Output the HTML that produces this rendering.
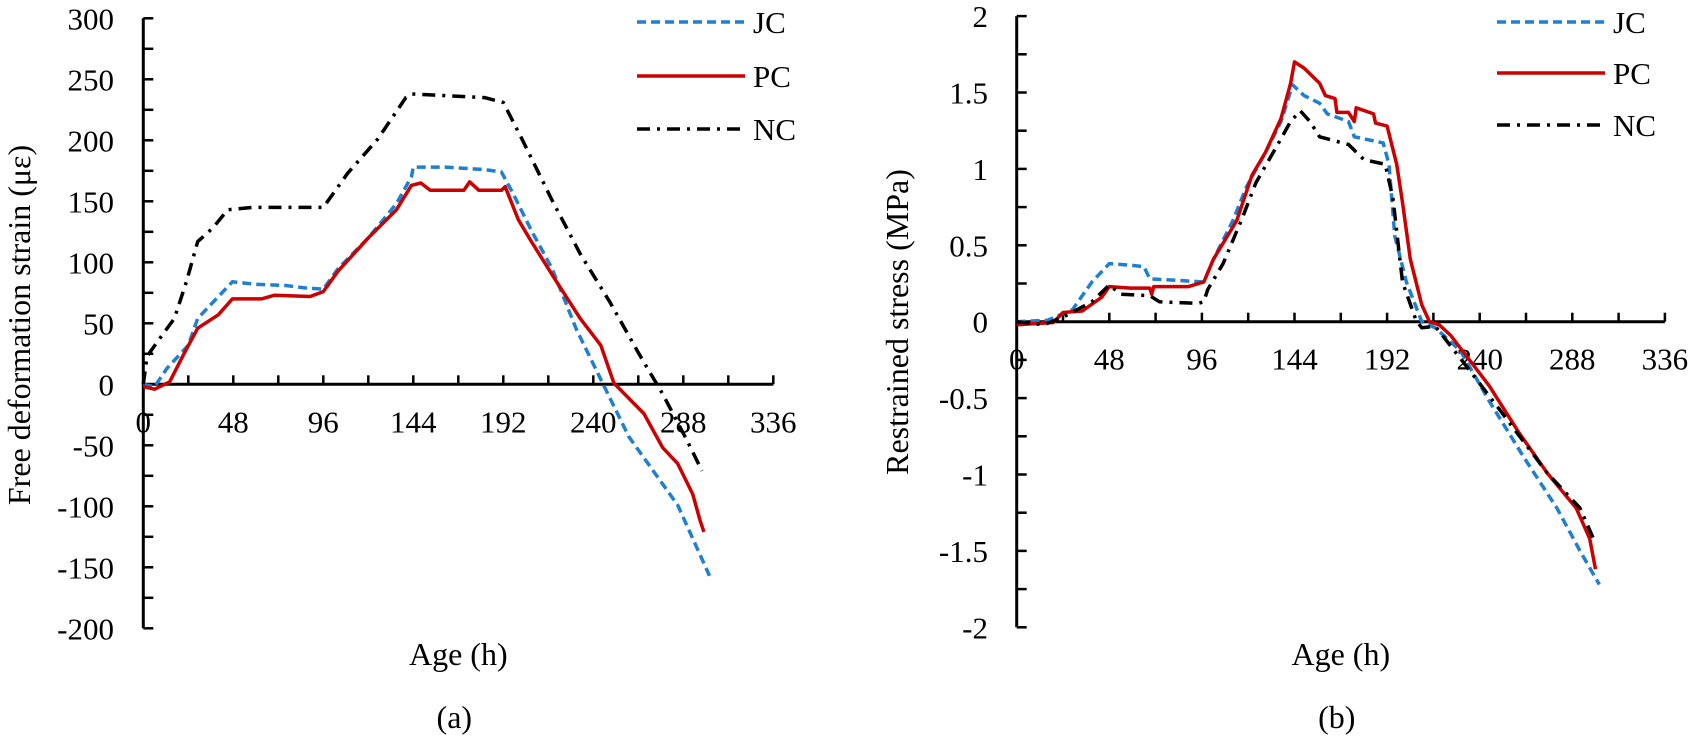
<!DOCTYPE html>
<html><head><meta charset="utf-8">
<style>
html,body{margin:0;padding:0;background:#fff;}
svg{display:block;}
svg text{font-family:"Liberation Serif","Times New Roman",serif;fill:#000;}
</style></head>
<body>
<svg id="fig" width="1689" height="742" viewBox="0 0 1689 742" font-family="Liberation Serif, serif" xmlns="http://www.w3.org/2000/svg"></svg>
<script>
// ---- Data: chart (a) free deformation strain ----
const xTicks = [0,48,96,144,192,240,288,336];
const aYTicks = [300,250,200,150,100,50,0,-50,-100,-150,-200];
const aJCx = [0,6,12.6,24,29,37,47.5,60,76,86,96,104,120,135,143,144,161,182,191,197,207,218,231,244,259,285,302];
const aJCy = [0,-2,13,32,54,67,84,82,81,79,78,95,120,148,170,178,178,176,174,157,126,95,45,4,-43,-99,-157];
const aPCx = [0,6,14,22,29,40,47.5,63,70,89,96,104,120,135,143,148,153,171,174,179,191,193,200,207,220,233,244,251,267,277,285,293,297,299];
const aPCy = [-2,-4,2,26,46,57,70,70,73,72,76,93,120,143,163,165,159,159,166,159,159,162,135,117,85,54,32,1,-24,-52,-65,-90,-112,-121];
const aNCx = [0,2,9,16.6,23,29,37,45,58,78,96,109,125,140,143,156,182,192,202,218,233,249,264,277,290,298];
const aNCy = [0,23,38,54,84,117,128,143,145,145,145,173,201,235,238,237,235,231,201,151,107,67,26,-8,-46,-71];
// ---- Data: chart (b) restrained stress ----
const bYTicks = [2,1.5,1,0.5,0,-0.5,-1,-1.5,-2];
const bYLabels = ["2","1.5","1","0.5","0","-0.5","-1","-1.5","-2"];
const bJCx = [0,16,29,39,48,59,66,69,84,97,102,112,119,129,137,143,149,157,161,172,175,190,193,196,202,210,217,230,245,263,280,292,302];
const bJCy = [0,0.01,0.08,0.26,0.38,0.37,0.36,0.28,0.27,0.26,0.41,0.66,0.88,1.11,1.31,1.55,1.48,1.43,1.36,1.31,1.21,1.17,1.03,0.56,0.26,0,-0.04,-0.19,-0.52,-0.89,-1.22,-1.5,-1.72];
const bPCx = [0,19,24,34,44,48,59,69,70,71,89,97,102,114,122,129,137,142,144,149,157,160,165,166,172,175,176,185,186,192,197,200,204,210,214,219,225,245,260,275,290,297,300];
const bPCy = [-0.02,-0.005,0.06,0.07,0.16,0.23,0.22,0.22,0.18,0.23,0.23,0.26,0.41,0.66,0.96,1.11,1.33,1.56,1.70,1.66,1.56,1.48,1.46,1.37,1.37,1.31,1.40,1.36,1.30,1.28,1.03,0.78,0.41,0.11,0,-0.02,-0.09,-0.42,-0.72,-0.99,-1.22,-1.42,-1.62];
const bNCx = [0,14,24,39,48,54,69,74,94,97,99,107,117,124,134,142,147,152,157,172,180,191,195,200,207,210,217,230,250,275,292,300];
const bNCy = [0,-0.02,0.03,0.13,0.24,0.18,0.17,0.13,0.12,0.13,0.21,0.38,0.68,0.91,1.13,1.31,1.38,1.31,1.21,1.16,1.06,1.03,0.81,0.26,0.01,-0.04,-0.03,-0.24,-0.57,-0.99,-1.22,-1.45];

const NS = "http://www.w3.org/2000/svg";
const svg = document.getElementById('fig');
function mk(tag, attrs, parent){
  const e = document.createElementNS(NS, tag);
  for (const k in attrs) e.setAttribute(k, attrs[k]);
  (parent||svg).appendChild(e);
  return e;
}
const styles = {
  JC:{stroke:'#1f7fd0',dash:'9 5'},
  PC:{stroke:'#cc0000',dash:''},
  NC:{stroke:'#000000',dash:'13 7 3 7'}
};
const FF = '"Liberation Serif", "Times New Roman", serif';

function drawChart(cfg){
  const g = mk('g',{'font-family':FF});
  
  
  const X = v => cfg.x0 + v/48*cfg.px48;
  const Y = v => cfg.y0 - v/cfg.yStep*cfg.pxStep;
  const yTop = Y(cfg.yTicks[0]), yBot = Y(cfg.yTicks[cfg.yTicks.length-1]);
  const ya = mk('line',{x1:cfg.x0,y1:yTop,x2:cfg.x0,y2:yBot,stroke:'#000','stroke-width':3},g);
  
  
  for (let i=0;i<cfg.yTicks.length;i++){
    const v = cfg.yTicks[i];
    mk('line',{x1:cfg.x0,y1:Y(v),x2:cfg.x0+10,y2:Y(v),stroke:'#000','stroke-width':2.5},g);
    if (i<cfg.yTicks.length-1){
      const m = v - cfg.yStep/2;
      mk('line',{x1:cfg.x0,y1:Y(m),x2:cfg.x0+10,y2:Y(m),stroke:'#000','stroke-width':2.5},g);
    }
    const t = mk('text',{x:cfg.labelRight,y:Y(v)+11,'text-anchor':'end','font-size':31},g);
    t.textContent = cfg.yLabels[i];
    
    
  }
  const xa = mk('line',{x1:cfg.x0,y1:cfg.y0,x2:X(336),y2:cfg.y0,stroke:'#000','stroke-width':3},g);
  
  
  for (let v=24; v<=336; v+=24){
    mk('line',{x1:X(v),y1:cfg.y0,x2:X(v),y2:cfg.y0-9,stroke:'#000','stroke-width':2.5},g);
  }
  xTicks.forEach(v=>{
    const t = mk('text',{x:X(v),y:cfg.y0+48,'text-anchor':'middle','font-size':31},g);
    t.textContent = String(v);
    
    
  });
  const cx = (cfg.x0 + X(336))/2;
  const xt = mk('text',{x:cx,y:665,'text-anchor':'middle','font-size':32},g);
  xt.textContent = 'Age (h)';
  
  
  const pl = mk('text',{x:cx-4,y:728,'text-anchor':'middle','font-size':32},g);
  pl.textContent = cfg.panel;
  
  
  const yt = mk('text',{x:0,y:0,'text-anchor':'middle','font-size':32,transform:`translate(${cfg.ytX},${cfg.ytY}) rotate(-90)`},g);
  yt.textContent = cfg.yTitle;
  
  
  cfg.series.forEach(s=>{
    const st = styles[s.key];
    const d = s.xs.map((x,i)=>(i?'L':'M')+X(x).toFixed(1)+' '+Y(s.ys[i]).toFixed(1)).join(' ');
    const p = mk('path',{d:d,fill:'none',stroke:st.stroke,'stroke-width':3.5,'stroke-linejoin':'round'},g);
    if (st.dash) p.setAttribute('stroke-dasharray', st.dash);
    
    
  });
  cfg.series.forEach((s,i)=>{
    const st = styles[s.key];
    const ly = cfg.legY[i];
    const lg = mk('g',{},g);
    
    
    const l = mk('line',{x1:cfg.legX,y1:ly,x2:cfg.legX+108,y2:ly,stroke:st.stroke,'stroke-width':3.5},lg);
    if (st.dash) l.setAttribute('stroke-dasharray', st.dash);
    const t = mk('text',{x:cfg.legX+116,y:ly+11,'font-size':31},lg);
    t.textContent = s.key;
  });
}

drawChart({
  name:'chart-a-free-deformation', panel:'(a)',
  x0:143.3, y0:384.3, px48:90, yStep:50, pxStep:61,
  yTicks:aYTicks, yLabels:aYTicks.map(String), labelRight:114,
  yTitle:'Free deformation strain (με)', ytX:30, ytY:325,
  legX:637, legY:[22,76,129],
  series:[{key:'JC',xs:aJCx,ys:aJCy},{key:'PC',xs:aPCx,ys:aPCy},{key:'NC',xs:aNCx,ys:aNCy}]
});
drawChart({
  name:'chart-b-restrained-stress', panel:'(b)',
  x0:1016.7, y0:321.7, px48:92.6, yStep:0.5, pxStep:76.4,
  yTicks:bYTicks, yLabels:bYLabels, labelRight:988,
  yTitle:'Restrained stress (MPa)', ytX:908, ytY:322,
  legX:1497, legY:[22,73,125],
  series:[{key:'JC',xs:bJCx,ys:bJCy},{key:'PC',xs:bPCx,ys:bPCy},{key:'NC',xs:bNCx,ys:bNCy}]
});
</script>
</body></html>
